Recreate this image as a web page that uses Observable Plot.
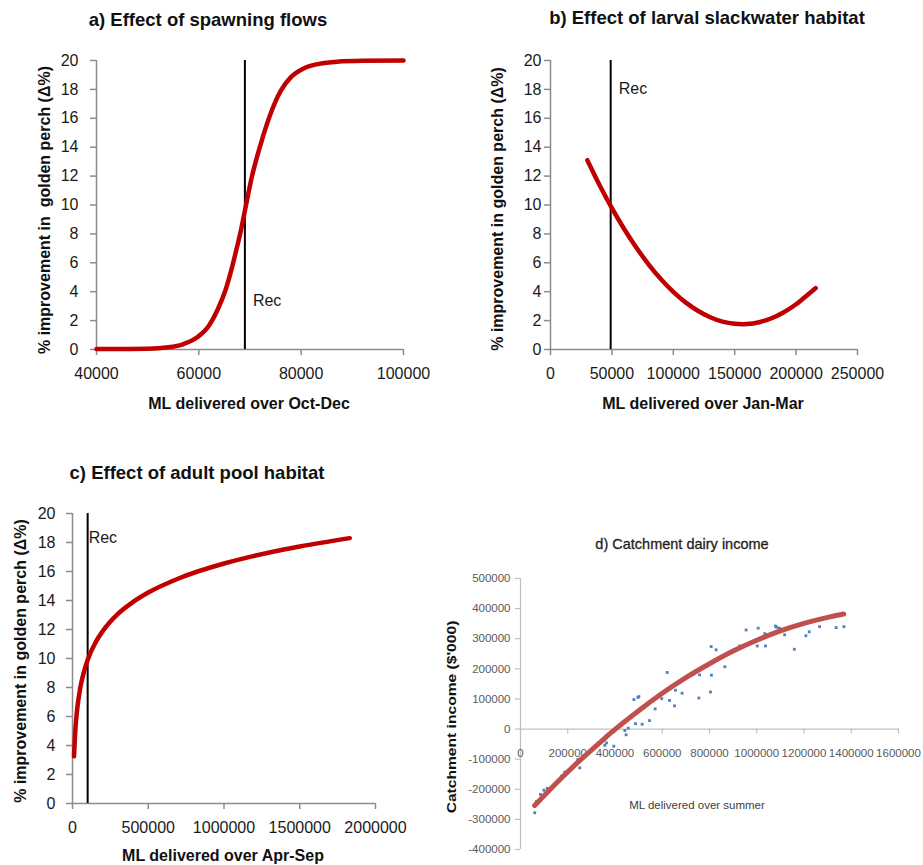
<!DOCTYPE html>
<html><head><meta charset="utf-8">
<script src="https://cdn.jsdelivr.net/npm/d3@7"></script>
<script src="https://cdn.jsdelivr.net/npm/@observablehq/plot@0.6"></script>
<style>
body{margin:0;background:#fff;}
#wrap{position:relative;width:923px;height:865px;overflow:hidden;font-family:"Liberation Sans",Arial,sans-serif;color:#111;}
.lab{position:absolute;white-space:nowrap;line-height:1;}
.panel{position:absolute;}
.panel svg{overflow:visible;}
</style></head><body><div id="wrap"></div>
<script>
// ---------- data ----------
// a) spawning flows
const spawnFlowML   = [40000, 45000, 50000, 54000, 57000, 59700, 62000, 63600, 65200, 66500, 67400, 68200, 69000, 70400, 72000, 74000, 76000, 78000, 80500, 83500, 87000, 92000, 100000];
const spawnImprove  = [0.03, 0.04, 0.05, 0.15, 0.38, 0.85, 1.66, 2.7, 4.1, 5.7, 7.0, 8.2, 9.6, 12.0, 14.1, 16.3, 17.9, 18.85, 19.45, 19.77, 19.92, 19.98, 20.0];
// b) larval slackwater habitat
const slackFlowML   = [30000, 40000, 50000, 60000, 70000, 80000, 90000, 100000, 110000, 120000, 130000, 140000, 150000, 160000, 170000, 180000, 190000, 200000, 210000, 216000];
const slackImprove  = [13.1, 11.37, 9.78, 8.34, 7.04, 5.88, 4.86, 3.99, 3.26, 2.68, 2.23, 1.93, 1.78, 1.76, 1.89, 2.16, 2.58, 3.13, 3.83, 4.25];
// c) adult pool habitat
const poolFlowML    = [10000, 20000, 30000, 50000, 75000, 100000, 150000, 200000, 300000, 400000, 500000, 700000, 1000000, 1300000, 1500000, 1830000];
const poolImprove   = [3.25, 5.25, 6.42, 7.9, 9.07, 9.9, 11.07, 11.9, 13.08, 13.9, 14.55, 15.52, 16.55, 17.31, 17.72, 18.3];
// d) catchment dairy income (scatter)
const dairyFlowML   = [60500, 67700, 84700, 98800, 113000, 173600, 187600, 204600, 242600, 251000, 357000, 364000, 395000, 441600, 447000, 456000, 480000, 497000, 501000, 487000, 515000, 546000, 570000, 598000, 621000, 631000, 652000, 656000, 684000, 755000, 758000, 804000, 807000, 808000, 828000, 865000, 927000, 955000, 1002000, 1006000, 1034000, 1037000, 1079000, 1084000, 1096000, 1118000, 1159000, 1208000, 1222000, 1266000, 1336000, 1369000];
const dairyIncome   = [-278000, -240000, -217000, -203000, -197000, -157000, -143000, -136000, -101000, -129000, -54000, -46000, -57000, -5000, -19000, 3000, 98000, 105000, 108000, 18000, 16000, 28000, 67000, 101000, 188000, 95000, 77000, 129000, 119000, 103000, 180000, 123000, 274000, 179000, 263000, 207000, 276000, 329000, 276000, 335000, 317000, 276000, 342000, 338000, 335000, 313000, 265000, 310000, 323000, 340000, 337000, 340000];
// d) trend line
const trendFlowML   = [60000, 150000, 250000, 350000, 400000, 500000, 600000, 700000, 800000, 900000, 1000000, 1100000, 1200000, 1300000, 1368000];
const trendIncome   = [-254000, -181000, -105000, -35000, -1000, 61000, 119000, 171000, 217000, 259000, 295000, 326000, 351000, 371000, 382000];
// recommended flows
const recSpawn = 69000, recSlack = 49000, recPool = 100000;
// ticks
const pctTicks   = [0, 2, 4, 6, 8, 10, 12, 14, 16, 18, 20];
const aTicksX    = [40000, 60000, 80000, 100000];
const bTicksX    = [0, 50000, 100000, 150000, 200000, 250000];
const cTicksX    = [0, 500000, 1000000, 1500000, 2000000];
const dTicksX    = [0, 200000, 400000, 600000, 800000, 1000000, 1200000, 1400000, 1600000];
const dTicksY    = [-400000, -300000, -200000, -100000, 0, 100000, 200000, 300000, 400000, 500000];

// ---------- helpers ----------
const wrap = document.getElementById("wrap");
const FONT = "Liberation Sans, Arial, sans-serif";
const gray = "#8c8c8c";
const fmt = d => String(d);
const zip = (xs, ys) => xs.map((x, i) => ({x, y: ys[i]}));

function addPanel(svg, left, top) {
  const d = document.createElement("div");
  d.className = "panel"; d.style.left = left + "px"; d.style.top = top + "px";
  d.appendChild(svg); wrap.appendChild(d);
}
function addLabel(text, cx, cy, css, rotate, sx) {
  const d = document.createElement("div");
  d.className = "lab"; d.textContent = text;
  Object.assign(d.style, css);
  d.style.left = cx + "px"; d.style.top = cy + "px";
  d.style.transform = "translate(-50%,-50%)" + (rotate ? " rotate(-90deg)" : "") + (sx ? ` scaleX(${sx})` : "");
  wrap.appendChild(d);
}

function fishPanel({pts, xDomain, xTicks, rec, recAnchor, recDy, recDx, W, H, mL, mR, mT, mB, yPad, curve}) {
  return Plot.plot({
    width: W, height: H, marginLeft: mL, marginRight: mR, marginTop: mT, marginBottom: mB,
    style: {background: "none", fontFamily: FONT, overflow: "visible", color: "#1a1a1a"},
    x: {domain: xDomain}, y: {domain: [0, 20]},
    marks: [
      Plot.ruleX([xDomain[0]], {stroke: gray, strokeWidth: 1.5}),
      Plot.ruleY([0], {stroke: gray, strokeWidth: 1.5}),
      Plot.axisX({ticks: xTicks, tickSize: 6, tickPadding: 12, stroke: gray, strokeWidth: 1.5, fill: "#1a1a1a", fontSize: 16, tickFormat: fmt, label: null}),
      Plot.axisY({ticks: pctTicks, tickSize: 6, tickPadding: yPad, stroke: gray, strokeWidth: 1.5, fill: "#1a1a1a", fontSize: 16, tickFormat: fmt, label: null}),
      Plot.ruleX([rec], {stroke: "#000", strokeWidth: 2}),
      Plot.line(pts, {x: "x", y: "y", stroke: "#C00000", strokeWidth: 4.5, curve}),
      Plot.text([rec], {x: d => d, text: () => "Rec", frameAnchor: recAnchor, dy: recDy, dx: recDx, textAnchor: "start", fontSize: 16, fill: "#1a1a1a"})
    ]
  });
}

// ---------- panel a ----------
addPanel(fishPanel({pts: zip(spawnFlowML, spawnImprove), xDomain: [40000, 100000], xTicks: aTicksX,
  rec: recSpawn, recAnchor: "bottom", recDy: -44, recDx: 8,
  W: 460, H: 420, mL: 96, mR: 57, mT: 60, mB: 71, yPad: 12, curve: "monotone-x"}), 0, 0);
// ---------- panel b ----------
addPanel(fishPanel({pts: zip(slackFlowML, slackImprove), xDomain: [0, 250000], xTicks: bTicksX,
  rec: recSlack, recAnchor: "top", recDy: 22, recDx: 8,
  W: 463, H: 420, mL: 90, mR: 66, mT: 60, mB: 71, yPad: 3, curve: "catmull-rom"}), 460, 0);
// ---------- panel c ----------
addPanel(fishPanel({pts: zip(poolFlowML, poolImprove), xDomain: [0, 2000000], xTicks: cTicksX,
  rec: recPool, recAnchor: "top", recDy: 18, recDx: 1,
  W: 460, H: 405, mL: 72, mR: 85, mT: 53, mB: 62, yPad: 11, curve: "monotone-x"}), 0, 460);

// ---------- panel d ----------
const dGray = "#c0c0c0";
addPanel(Plot.plot({
  width: 483, height: 305, marginLeft: 80, marginRight: 25, marginTop: 18, marginBottom: 16,
  style: {background: "none", fontFamily: FONT, overflow: "visible", color: "#595959"},
  x: {domain: [0, 1600000], axis: null}, y: {domain: [-400000, 500000]},
  marks: [
    Plot.ruleX([0], {stroke: dGray, strokeWidth: 1.2}),
    Plot.ruleY([0], {stroke: dGray, strokeWidth: 1.2}),
    Plot.ruleX(dTicksX, {x: d => d, y1: 0, y2: 0, insetTop: 0, insetBottom: -5, stroke: dGray, strokeWidth: 1.2}),
    Plot.text(dTicksX, {x: d => d, y: 0, dy: 24, text: fmt, fontSize: 11.5, fill: "#595959"}),
    Plot.axisY({ticks: dTicksY, tickSize: 5, tickPadding: 5, stroke: dGray, strokeWidth: 1.2, fill: "#595959", fontSize: 11.5, tickFormat: fmt, label: null}),
    Plot.dot(zip(dairyFlowML, dairyIncome), {x: "x", y: "y", symbol: "square", r: 1.6, fill: "#4F81BD", stroke: "none"}),
    Plot.line(zip(trendFlowML, trendIncome), {x: "x", y: "y", stroke: "#C0504D", strokeWidth: 5, curve: "natural"})
  ]
}), 440, 560);

// ---------- titles & axis labels ----------
const bold = {fontWeight: "bold", fontFamily: FONT, color: "#111"};
addLabel("a) Effect of spawning flows", 208, 20, {...bold, fontSize: "18.5px"});
addLabel("b) Effect of larval slackwater habitat", 707, 18, {...bold, fontSize: "18.5px"});
addLabel("c) Effect of adult pool habitat", 197, 473, {...bold, fontSize: "18.5px"});
addLabel("d) Catchment dairy income", 682, 544, {fontFamily: FONT, fontSize: "14.5px", color: "#1f1f1f", fontWeight: "500", WebkitTextStroke: "0.3px #1f1f1f"});

addLabel("ML delivered over Oct-Dec", 249, 404, {...bold, fontSize: "16px"});
addLabel("ML delivered over Jan-Mar", 703, 404, {...bold, fontSize: "16px"});
addLabel("ML delivered over Apr-Sep", 223, 856, {...bold, fontSize: "16px"});
addLabel("ML delivered over summer", 697, 806, {fontFamily: FONT, fontSize: "11.5px", color: "#404040"});

addLabel("% improvement in  golden perch (\u0394%)", 44.5, 210, {...bold, fontSize: "16px", whiteSpace: "pre"}, true);
addLabel("% improvement in golden perch (\u0394%)", 497.5, 209, {...bold, fontSize: "16px"}, true);
addLabel("% improvement in golden perch (\u0394%)", 20.5, 661, {...bold, fontSize: "16px"}, true);
addLabel("Catchment income ($'000)", 452, 717, {...bold, fontSize: "12px"}, true, 1.3);
</script></body></html>
